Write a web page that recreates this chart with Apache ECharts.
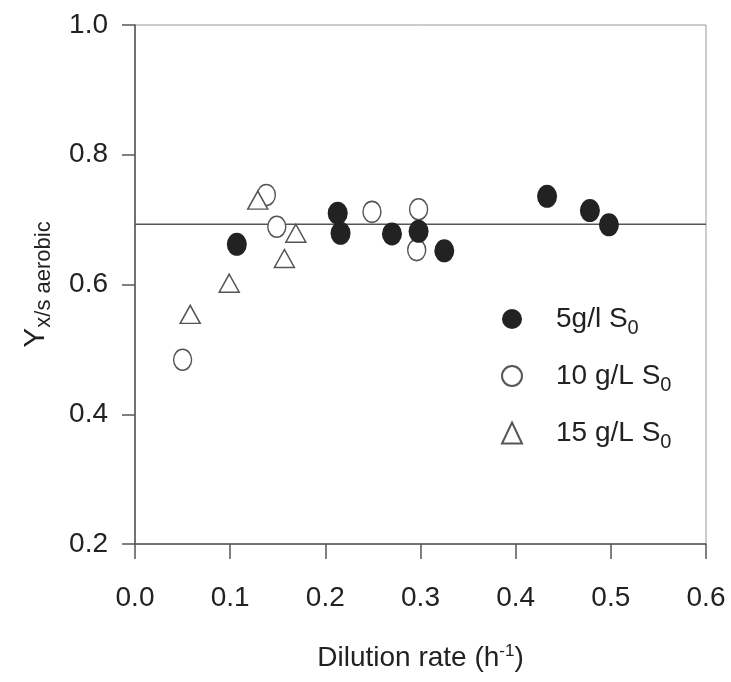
<!DOCTYPE html>
<html>
<head>
<meta charset="utf-8">
<script src="https://cdn.jsdelivr.net/npm/echarts@6/dist/echarts.min.js"></script>
<style>
  html, body { margin: 0; padding: 0; background: #fff; }
  #yield { width: 731px; height: 682px; }
</style>
</head>
<body>
<div id="yield"></div>
<script>
// dilution rate (1/h) and aerobic yield Yx/s
var s5X = [0.107, 0.213, 0.216, 0.270, 0.298, 0.325, 0.433, 0.478, 0.498];
var s5Y = [0.662, 0.710, 0.679, 0.678, 0.682, 0.652, 0.736, 0.714, 0.692];
var s10X = [0.050, 0.138, 0.149, 0.249, 0.298, 0.296];
var s10Y = [0.484, 0.738, 0.689, 0.712, 0.716, 0.653];
var s15X = [0.058, 0.099, 0.129, 0.157, 0.169];
var s15Y = [0.554, 0.602, 0.730, 0.640, 0.679];
var meanX = [0, 0.6];
var meanY = [0.693, 0.693];
var xTicks = ['0.0', '0.1', '0.2', '0.3', '0.4', '0.5', '0.6'];
var yTicks = ['0.2', '0.4', '0.6', '0.8', '1.0'];
var seriesNames = ['5g/l S', '10 g/L S', '15 g/L S'];

function pairs(xs, ys) {
    var out = [];
    for (var i = 0; i < xs.length; i++) out.push([xs[i], ys[i]]);
    return out;
}

(function () {
    var font = "'Liberation Sans', Arial, sans-serif";
    var axisColor = '#555';
    var myChart = echarts.init(document.getElementById('yield'));
    var option = {
        animation: false,
        textStyle: { fontFamily: font },
        grid: {
            left: 135, right: 25, top: 25, bottom: 138,
            show: true, borderColor: '#999', borderWidth: 1
        },
        legend: {
            orient: 'vertical',
            left: 496,
            top: 300,
            itemWidth: 20,
            itemHeight: 21,
            itemGap: 24,
            data: seriesNames,
            formatter: function (name) {
                return '{a|' + name + '}{s|0}';
            },
            textStyle: {
                rich: {
                    a: { fontSize: 28, color: '#222', padding: [0, 0, 0, 29], fontFamily: font },
                    s: { fontSize: 20, color: '#222', padding: [18, 0, 0, 0], fontFamily: font }
                }
            }
        },
        xAxis: {
            type: 'value',
            min: 0, max: 0.6, interval: 0.1,
            name: '{a|Dilution rate (h}{p|-1}{a|)}',
            nameLocation: 'middle',
            nameGap: 99,
            nameTextStyle: {
                rich: {
                    a: { fontSize: 28, color: '#222', fontFamily: font },
                    p: { fontSize: 17, color: '#222', padding: [0, 0, 14, 0], fontFamily: font }
                }
            },
            splitLine: { show: false },
            axisLine: { lineStyle: { color: axisColor, width: 1.5 } },
            axisTick: { inside: false, length: 15, lineStyle: { color: axisColor, width: 1.5 } },
            axisLabel: {
                margin: 40, fontSize: 28, color: '#222',
                formatter: function (v) { return xTicks[Math.round(v * 10)]; }
            }
        },
        yAxis: {
            type: 'value',
            min: 0.2, max: 1.0, interval: 0.2,
            name: '{y|Y}{s|x/s aerobic}',
            nameLocation: 'middle',
            nameGap: 80,
            nameRotate: 90,
            nameTextStyle: {
                rich: {
                    y: { fontSize: 30, color: '#222', fontFamily: font },
                    s: { fontSize: 22, color: '#222', padding: [16, 0, 0, 0], fontFamily: font }
                }
            },
            splitLine: { show: false },
            axisLine: { lineStyle: { color: axisColor, width: 1.5 } },
            axisTick: { inside: false, length: 13, lineStyle: { color: axisColor, width: 1.5 } },
            axisLabel: {
                margin: 27, fontSize: 28, color: '#222',
                formatter: function (v) { return yTicks[Math.round((v - 0.2) * 5)]; }
            }
        },
        series: [
            {
                type: 'line',
                data: pairs(meanX, meanY),
                symbol: 'none',
                silent: true,
                z: 1,
                lineStyle: { color: '#555', width: 1.5 }
            },
            {
                name: seriesNames[0],
                type: 'scatter',
                data: pairs(s5X, s5Y),
                symbol: 'circle',
                symbolSize: [20, 23],
                z: 3,
                itemStyle: { color: '#222', opacity: 1 }
            },
            {
                name: seriesNames[1],
                type: 'scatter',
                data: pairs(s10X, s10Y),
                symbol: 'circle',
                symbolSize: [18, 21],
                z: 2,
                itemStyle: { color: '#fff', borderColor: '#555', borderWidth: 1.5, opacity: 1 }
            },
            {
                name: seriesNames[2],
                type: 'scatter',
                data: pairs(s15X, s15Y),
                symbol: 'triangle',
                symbolSize: [20, 18],
                z: 2,
                itemStyle: { color: '#fff', borderColor: '#555', borderWidth: 1.5, opacity: 1 }
            }
        ]
    };
    myChart.setOption(option);
})();
</script>
</body>
</html>
